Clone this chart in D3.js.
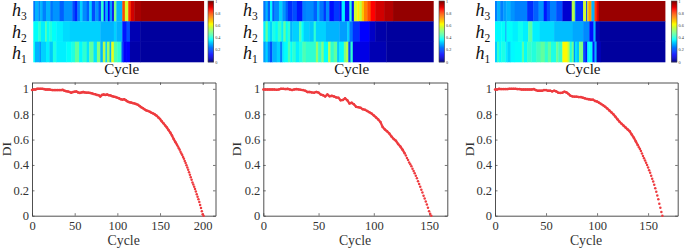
<!DOCTYPE html>
<html><head><meta charset="utf-8">
<script src="https://cdn.jsdelivr.net/npm/d3@7"></script>
<style>html,body{margin:0;padding:0;background:#fff;overflow:hidden}svg{display:block}text{font-family:"Liberation Serif",serif}</style>
</head><body><svg id="c" width="685" height="249"></svg>
<script>
// Heatmap strips as [value, number of cycles]
const stripA_h3=[[.24,2],[.3,4],[.26,2],[.3,3],[.25,4],[.3,5],[.24,3],[.27,8],[.22,5],[.27,10],[.2,3],[.16,3],[.25,3],[.33,3],[.26,5],[.22,3],[.33,3],[.2,4],[.27,4],[.2,3],[.42,3],[.15,2],[.3,3],[.12,2],[.28,3],[.12,2],[.5,3],[.3,7],[.8,3],[.58,4],[.82,3],[.92,4],[.96,8],[.975,74]];
const stripA_h2=[[.38,6],[.42,3],[.36,5],[.45,2],[.38,3],[.41,3],[.38,5],[.36,8],[.34,8],[.33,36],[.3,16],[.33,3],[.3,7],[.15,5],[.2,4],[.05,12],[.03,75]];
const stripA_h1=[[.38,2],[.3,5],[.27,2],[.33,6],[.36,4],[.32,4],[.4,4],[.36,12],[.38,6],[.4,4],[.47,5],[.37,4],[.42,5],[.35,3],[.47,5],[.35,4],[.5,4],[.3,3],[.55,3],[.33,2],[.52,3],[.3,2],[.6,3],[.45,4],[.42,5],[.2,2],[.12,4],[.13,4],[.04,12],[.03,75]];
const stripB_h3=[[.24,2],[.3,2],[.22,2],[.37,2],[.22,2],[.26,4],[.33,3],[.27,3],[.22,2],[.17,4],[.2,4],[.15,5],[.25,3],[.26,7],[.22,3],[.3,2],[.24,4],[.18,2],[.26,3],[.14,4],[.18,5],[.14,2],[.36,3],[.14,4],[.42,2],[.15,2],[.58,3],[.64,2],[.56,2],[.68,2],[.75,3],[.8,3],[.87,4],[.92,8],[.95,8],[.98,36]];
const stripB_h2=[[.36,2],[.47,2],[.36,2],[.33,2],[.4,3],[.37,2],[.43,3],[.36,2],[.47,2],[.38,2],[.42,2],[.3,2],[.33,6],[.45,2],[.38,2],[.33,5],[.32,4],[.42,2],[.33,9],[.3,12],[.28,7],[.33,2],[.24,3],[.17,6],[.13,9],[.07,5],[.04,10],[.03,42]];
const stripB_h1=[[.28,2],[.33,2],[.26,2],[.2,2],[.3,4],[.33,3],[.25,2],[.36,2],[.38,3],[.45,2],[.38,2],[.42,3],[.36,3],[.4,3],[.45,3],[.42,9],[.52,2],[.42,3],[.5,2],[.38,4],[.55,2],[.42,3],[.47,3],[.32,2],[.37,4],[.5,2],[.55,2],[.2,2],[.42,2],[.1,15],[.05,15],[.03,42]];
const stripC_h3=[[.25,2],[.3,3],[.25,3],[.28,3],[.3,4],[.27,4],[.25,5],[.25,7],[.17,6],[.22,5],[.27,5],[.15,3],[.2,3],[.25,6],[.2,6],[.08,9],[.55,3],[.25,1],[.17,7],[.58,3],[.15,1],[.6,1],[.72,3],[.3,3],[.82,2],[.9,2],[.975,64]];
const stripC_h2=[[.37,6],[.38,4],[.27,1],[.38,6],[.36,5],[.39,5],[.36,5],[.46,4],[.36,7],[.34,14],[.31,18],[.29,10],[.26,6],[.14,4],[.3,2],[.06,4],[.03,63]];
const stripC_h1=[[.33,2],[.42,2],[.37,2],[.4,4],[.36,2],[.33,3],[.37,4],[.38,7],[.46,2],[.38,3],[.43,4],[.41,5],[.44,4],[.47,4],[.42,3],[.47,3],[.4,5],[.48,2],[.43,4],[.63,5],[.56,2],[.4,2],[.48,2],[.25,1],[.35,2],[.32,2],[.5,4],[.2,2],[.15,2],[.37,2],[.37,3],[.15,2],[.3,2],[.06,4],[.03,62]];
// DI curves: every second cycle, then every cycle in the steep tail
const diA_head=[.99,.995,.995,1,1,1,1,.998,.995,.995,.995,.992,.99,.99,.99,.99,.99,.99,.992,.985,.982,.98,.975,.97,.975,.978,.98,.972,.968,.972,.975,.972,.97,.97,.968,.965,.96,.958,.952,.95,.94,.952,.955,.952,.955,.95,.948,.942,.938,.935,.93,.925,.918,.915,.918,.91,.9,.895,.892,.888,.885,.88,.875,.865,.855,.848,.838,.83,.825,.82,.812,.805,.798,.788,.775,.762,.745,.728,.712,.695,.675,.655,.632,.605,.58,.558];
const diA_tail=[.545,.532,.52,.505,.49,.478,.463,.448,.432,.415,.398,.38,.362,.343,.323,.303,.283,.262,.245,.229,.21,.19,.17,.15,.13,.108,.085,.06,.035,.012,0];
const diB_head=[.995,.995,.995,.995,.995,.995,.992,.995,1,1,.998,1,.995,.99,.995,.998,.995,.992,.99,.985,.975,.975,.972,.97,.975,.97,.955,.95,.94,.955,.942,.945,.94,.932,.93,.91,.912,.925,.91,.885,.89,.878,.858,.855,.85,.84,.835,.825,.815,.805,.79,.775,.758,.738,.7,.68,.665,.648,.625,.605,.59,.565,.545,.52,.49];
const diB_tail=[.475,.455,.44,.42,.405,.39,.37,.352,.335,.315,.295,.272,.25,.228,.205,.182,.158,.135,.112,.088,.062,.035,.015,0];
const diC_head=[.995,.995,1,.998,.998,.998,.998,1,1,1,1,.998,.998,.995,.995,.995,.995,.995,.995,.998,.99,.985,.985,.985,.99,.99,.985,.985,.98,.985,.98,.97,.968,.97,.978,.972,.96,.945,.94,.938,.938,.935,.935,.93,.925,.92,.918,.915,.915,.905,.9,.89,.88,.87,.858,.845,.83,.815,.8,.78,.76,.74,.725,.71,.695,.68,.665,.64,.615,.585,.555];
const diC_tail=[.54,.525,.51,.49,.47,.452,.435,.418,.4,.38,.358,.338,.315,.292,.27,.243,.216,.188,.16,.13,.095,.062,.03,0];
const rowNames=["3","2","1"];
const yTicks=[0,.2,.4,.6,.8,1];
const barTicks=[0,.2,.4,.6,.8,1];
const panels=[
 {strips:[stripA_h3,stripA_h2,stripA_h1],head:diA_head,tail:diA_tail,xMax:215,xTicks:[0,50,100,150,200],
  heat:[33.3,203.7],bar:[208,213.7],hx:12,hc:121.7,plot:[32,215.5],lc:123.7,di:10.5},
 {strips:[stripB_h3,stripB_h2,stripB_h1],head:diB_head,tail:diB_tail,xMax:166.5,xTicks:[0,50,100,150],
  heat:[263.3,433.3],bar:[439,444.5],hx:243,hc:351.7,plot:[263.3,447.3],lc:355,di:241},
 {strips:[stripC_h3,stripC_h2,stripC_h1],head:diC_head,tail:diC_tail,xMax:179,xTicks:[0,50,100,150],
  heat:[495,665],bar:[671.3,677],hx:475.5,hc:583,plot:[495,677.7],lc:586,di:473.5}
];
const jet=d3.scaleLinear().domain([0,.125,.375,.625,.875,1])
  .range(["#000080","#0000ff","#00ffff","#ffff00","#ff0000","#800000"]).clamp(true);
const svg=d3.select("#c");
const defs=svg.append("defs");
const soft=(id,s)=>defs.append("filter").attr("id",id).attr("filterUnits","userSpaceOnUse").attr("x",0).attr("y",0).attr("width",685).attr("height",249)
  .append("feGaussianBlur").attr("stdDeviation",s);
soft("soft",.45);soft("softer",.3);
const grey="#3c3c3c";
const heatRows=d3.scaleBand().domain(rowNames).range([1,62]);
const hBase={"3":15.5,"2":38,"1":58.5};
const yDI=d3.scaleLinear().domain([0,1.05]).range([215.7,82.5]);
const barY=d3.scaleLinear().domain([0,1]).range([62,1]);

panels.forEach(p=>{
  const g=svg.append("g");
  // heatmap
  const total=d3.sum(p.strips[0],d=>d[1]);
  const hx=d3.scaleLinear().domain([0,total]).range(p.heat);
  const hg=g.append("g").attr("filter","url(#soft)");
  p.strips.forEach((runs,i)=>{
    let c=0;
    const cells=runs.map(([v,n])=>{const o={v,s:c,e:c+n};c+=n;return o;});
    hg.selectAll(null).data(cells).join("rect")
      .attr("x",d=>hx(d.s)).attr("width",d=>hx(d.e)-hx(d.s)+.4)
      .attr("y",heatRows(rowNames[i])).attr("height",heatRows.bandwidth()+.3)
      .attr("fill",d=>jet(d.v));
  });
  rowNames.forEach(r=>{
    const t=g.append("text").attr("x",p.hx).attr("y",hBase[r]).attr("fill","#111");
    t.append("tspan").attr("font-size",18).attr("font-style","italic").text("h");
    t.append("tspan").attr("font-size",11.5).attr("dy",4).text(r);
  });
  g.append("text").attr("x",p.hc).attr("y",74).attr("text-anchor","middle").attr("font-size",15).attr("fill","#111").text("Cycle");
  // colour bar
  const steps=d3.range(0,1,1/64);
  g.selectAll(null).data(steps).join("rect")
    .attr("x",p.bar[0]).attr("width",p.bar[1]-p.bar[0])
    .attr("y",d=>barY(d+1/64)).attr("height",d=>barY(d)-barY(d+1/64)+.3)
    .attr("fill",d=>jet(d+1/128));
  g.append("rect").attr("x",p.bar[0]).attr("y",1).attr("width",p.bar[1]-p.bar[0]).attr("height",61)
    .attr("fill","none").attr("stroke","#444").attr("stroke-width",.6);
  g.selectAll(null).data(barTicks).join("text")
    .attr("x",p.bar[1]+1.5).attr("y",d=>barY(d)+1.5).attr("font-size",4.2).attr("font-family","Liberation Sans").attr("fill","#333")
    .text(d=>String(d));
  // DI scatter
  const x=d3.scaleLinear().domain([0,p.xMax]).range(p.plot);
  const headN=p.head.length;
  const headPts=p.head.map((v,i)=>[i*2,v]);
  const pts=headPts.concat(p.tail.map((v,i)=>[(headN-1)*2+1+i,v]));
  const ax=(gen,tx,ty,labels)=>{
    const a=g.append("g").attr("transform",`translate(${tx},${ty})`).call(gen);
    a.select(".domain").attr("stroke",grey).attr("stroke-width",.9);
    a.selectAll(".tick line").attr("stroke",grey).attr("stroke-width",.7);
    a.selectAll("text").attr("fill","#333").attr("font-size",12.5).attr("font-family","Liberation Serif");
    if(!labels)a.selectAll("text").remove();
  };
  ax(d3.axisBottom(x).tickValues(p.xTicks).tickSizeInner(-2.5).tickSizeOuter(0).tickPadding(5).tickFormat(String),0,215.7,true);
  ax(d3.axisTop(x).tickValues(p.xTicks).tickSizeInner(-2.5).tickSizeOuter(0),0,82.5,false);
  ax(d3.axisLeft(yDI).tickValues(yTicks).tickSizeInner(-2.5).tickSizeOuter(0).tickPadding(3).tickFormat(String),p.plot[0],0,true);
  ax(d3.axisRight(yDI).tickValues(yTicks).tickSizeInner(-2.5).tickSizeOuter(0),p.plot[1],0,false);
  const sg=g.append("g").attr("filter","url(#softer)");
  sg.append("path").datum(headPts).attr("fill","none").attr("stroke","#ee3b3f").attr("stroke-width",2.3)
    .attr("d",d3.line().x(d=>x(d[0])).y(d=>yDI(d[1])));
  sg.selectAll(null).data(pts).join("circle")
    .attr("cx",d=>x(d[0])).attr("cy",d=>yDI(d[1])).attr("r",1.25).attr("fill","#ee3b3f");
  g.append("text").attr("x",p.lc).attr("y",245).attr("text-anchor","middle").attr("font-size",13.8).attr("fill","#333").text("Cycle");
  g.append("text").attr("transform",`translate(${p.di},149) rotate(-90)`).attr("text-anchor","middle").attr("font-size",13.5).attr("fill","#333").text("DI");
});
</script></body></html>
